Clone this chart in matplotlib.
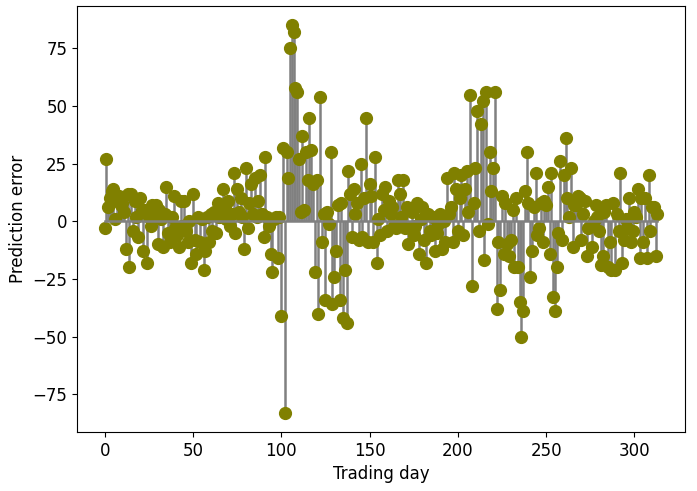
import matplotlib.pyplot as plt
import numpy as np

# prediction error per trading day
errors = [
    -3, 27, 6, 10, 13, 14, 1, 9, 11, 7,
    8, 4, -12, 12, -20, 12, -4, 9, 2, -7,
    10, 5, -13, 5, -18, 2, -2, 7, 3, 7,
    -10, 5, 1, -11, 3, 15, -5, -9, 2, 11,
    -3, -6, -11, 9, -2, 9, -4, -9, 0, -18,
    12, -8, -14, 2, -9, 1, -21, -13, 2, -9,
    3, -4, 4, -5, 8, 2, 5, 14, 6, 1,
    9, -2, 3, 21, -5, 14, 4, 10, 2, -12,
    23, -3, 8, 16, 3, 19, 2, 9, 20, 3,
    -7, 28, 2, -2, -14, -22, 1, 2, -16, 2,
    -41, 32, -83, 30, 19, 75, 85, 82, 58, 56,
    27, 4, 37, 5, 30, 18, 45, 31, 16, -22,
    18, -40, 54, -9, 3, -34, 4, -1, 30, -36,
    -24, -13, 7, -34, 8, -42, -21, -44, 22, 12,
    -7, 14, 3, 8, -8, 25, -7, 10, 45, -9,
    16, 11, -9, 28, -18, 1, -6, 12, 5, 15,
    -4, 9, 3, 6, -2, -3, 18, 12, 2, 18,
    -3, 6, -10, -3, 4, -6, -2, 8, -14, 1,
    6, -8, -18, 3, -4, -6, 2, -13, -5, -1,
    3, -12, 0, -9, 19, 3, 6, -9, 21, 14,
    -4, 10, 20, -6, 14, 22, 4, 55, -28, 8,
    23, 48, -4, 42, 52, -17, 56, -1, 30, 13,
    23, 56, -38, -9, -30, 11, -14, 8, -10, -15,
    -8, 5, -20, 10, -20, -35, -50, -39, 13, 30,
    8, -24, -13, 6, 21, -6, -3, 8, -9, 9,
    7, 15, -14, 21, -33, -39, -20, -5, 26, -8,
    20, 36, 10, 2, 23, -11, 7, 7, 11, 10,
    -8, 3, 9, -15, -3, -2, -11, 0, 7, 2,
    -4, -19, -15, 4, 7, -20, -9, -21, 8, -21,
    3, -4, 21, -18, -8, 1, -3, 10, -9, -4,
    4, 2, 14, -16, 10, -9, 10, -16, 20, -4,
    6, 6, -15, 3,
]
days = np.arange(len(errors))

plt.rcParams['font.size'] = 12

fig = plt.figure(figsize=(6.97, 4.91), dpi=100)
ax = fig.add_axes([77 / 697, 59 / 491, 608 / 697, 426 / 491])

markerline, stemlines, baseline = ax.stem(days, errors)
plt.setp(stemlines, color='gray', linewidth=1.8)
plt.setp(baseline, color='gray', linewidth=1.8)
plt.setp(markerline, color='olive', markersize=8.5)

ax.set_xlabel('Trading day')
ax.set_ylabel('Prediction error')
ax.set_xticks([0, 50, 100, 150, 200, 250, 300])
ax.set_yticks([-75, -50, -25, 0, 25, 50, 75])

fig.savefig('out.png', dpi=100)
